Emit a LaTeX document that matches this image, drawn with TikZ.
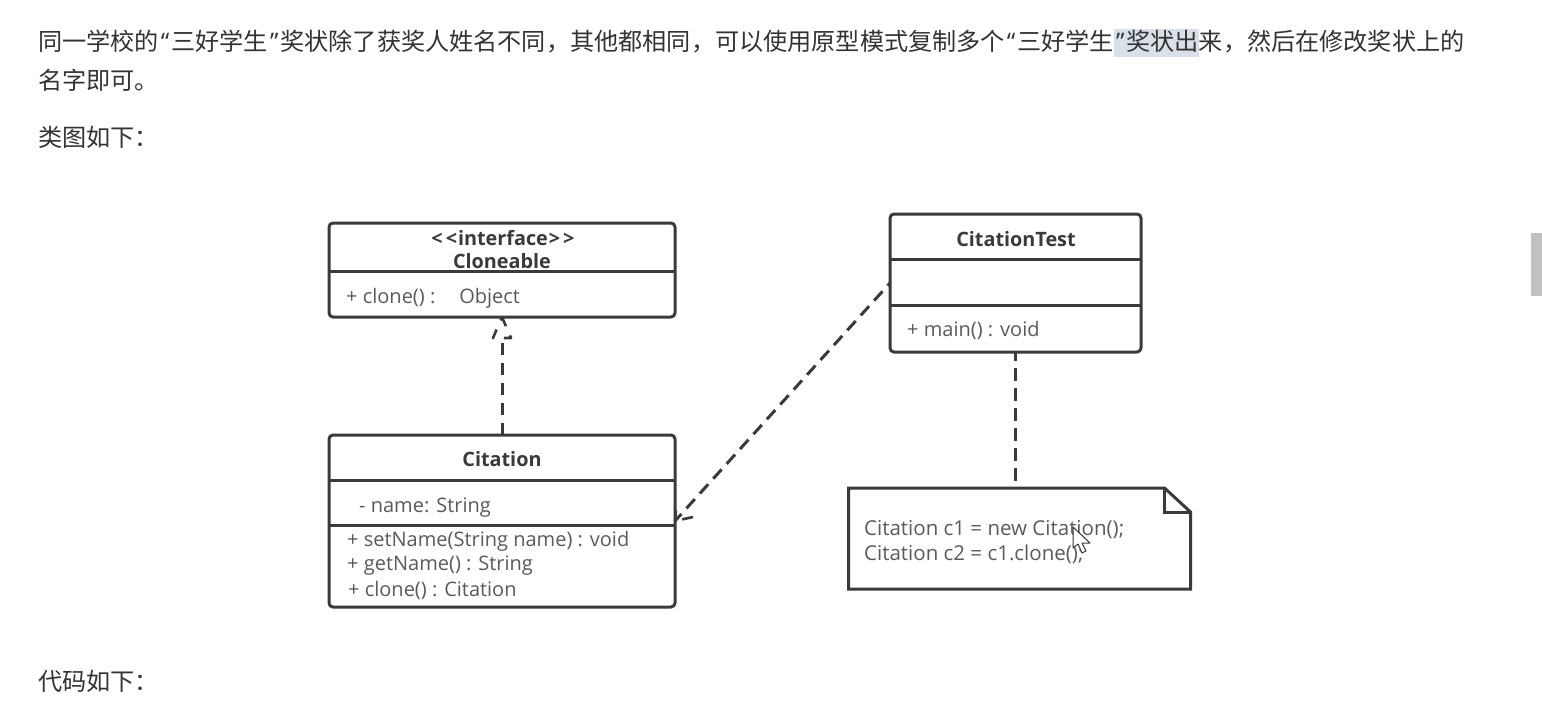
\documentclass[tikz,border=0pt]{standalone}
\usepackage{fontspec}
\setmainfont{Open Sans}
\newfontfamily\cjk{Noto Sans CJK SC}
\newcommand{\qopen}{\kern2pt{\rmfamily “}\kern2pt}
\newcommand{\qclose}{\kern2pt{\rmfamily ”}\kern2pt}
\usetikzlibrary{positioning}
\definecolor{inkgray}{HTML}{3A3A3A}
\definecolor{textgray}{HTML}{5A5A5A}
\definecolor{bodygray}{HTML}{333333}
\definecolor{markblue}{HTML}{D9E0E8}
\definecolor{barblue}{HTML}{C1C1C1}

\begin{document}
\begin{tikzpicture}[
  x=1pt, y=-1pt,
  line join=round,
  classbox/.style={draw=inkgray, line width=3pt, rounded corners=4pt, inner sep=0pt, outer sep=0pt},
  notebox/.style={inner sep=0pt, outer sep=0pt, minimum width=342pt, minimum height=101pt},
  divider/.style={draw=inkgray, line width=3pt},
  depline/.style={draw=inkgray, line width=3pt, dash pattern=on 12.5pt off 7.5pt},
  tipline/.style={draw=inkgray, line width=2.6pt, dash pattern=on 10pt off 10pt},
  bodytext/.style={inner sep=0pt, anchor=base west, text=bodygray, font=\cjk\fontsize{24.15}{28}\selectfont},
  title/.style={inner sep=0pt, anchor=base, text=inkgray, font=\bfseries\fontsize{19.8}{23}\selectfont},
  member/.style={inner sep=0pt, anchor=base west, text=textgray, font=\fontsize{20}{23}\selectfont},
  notetext/.style={member, font=\fontsize{20.5}{23}\selectfont},
]
  \useasboundingbox (0,0) rectangle (1542,709);

  \fill[markblue] (1114,29) rectangle (1199,57);
  \fill[barblue] (1531,233) rectangle (1542,296);

  \node[bodytext] (line1) at (38,51) {同一学校的\qopen 三好学生\qclose 奖状除了获奖人姓名不同，其他都相同，可以使用原型模式复制多个\qopen 三好学生\qclose 奖状出来，然后在修改奖状上的};
  \node[bodytext] (line2) at (38,89) {名字即可。};
  \node[bodytext] (line3) at (38,146) {类图如下：};
  \node[bodytext] (line4) at (38,690) {代码如下：};

  \node[classbox, minimum width=346pt, minimum height=94pt] (cloneable) at (502,270) {};
  \node[classbox, minimum width=346pt, minimum height=172pt, below=118pt of cloneable] (citation) {};
  \node[classbox, minimum width=251pt, minimum height=138pt, above right=9pt and 215pt of cloneable.north east, anchor=north west] (test) {};
  \node[notebox, below=136pt of test, xshift=4pt] (note) {};

  \draw[divider] ([yshift=-48pt]cloneable.north west) -- ([yshift=-48pt]cloneable.north east);
  \draw[divider] ([yshift=-45pt]citation.north west) -- ([yshift=-45pt]citation.north east);
  \draw[divider] ([yshift=-90pt]citation.north west) -- ([yshift=-90pt]citation.north east);
  \draw[divider] ([yshift=-45pt]test.north west) -- ([yshift=-45pt]test.north east);
  \draw[divider] ([yshift=-91pt]test.north west) -- ([yshift=-91pt]test.north east);

  \draw[divider, line join=miter] (note.north west) -- ([xshift=-26pt]note.north east) -- ([yshift=-24pt]note.north east) -- (note.south east) -- (note.south west) -- cycle;
  \draw[divider, line join=miter] ([xshift=-26pt]note.north east) |- ([yshift=-24pt]note.north east);

  \node[title] (stereotype) at (503,245) {<\kern3pt<\kern1pt interface\kern1pt>\kern3pt>};
  \node[title] (cloneabletitle) at (502,268) {Cloneable};
  \node[member] (cloneablem) at (346,303) {+ clone() :\kern24pt Object};
  \node[title] (citationtitle) at (502,466) {Citation};
  \node[member] (citationa) at (359,512) {- name: String};
  \node[member] (citationm1) at (347,546) {+ setName(String name) : void};
  \node[member] (citationm2) at (347,570) {+ getName() : String};
  \node[member] (citationm3) at (348,596) {+ clone() : Citation};
  \node[title] (testtitle) at (1016,246) {CitationTest};
  \node[member] (testm) at (907,336) {+ main() : void};
  \node[notetext] (notel1) at (864,535) {Citation c1 = new Citation();};
  \node[notetext] (notel2) at (864,560) {Citation c2 = c1.clone();};

  \coordinate (realtop) at ([yshift=-21pt]cloneable.south);
  \draw[depline] (citation.north) -- (realtop);
  \draw[tipline] (cloneable.south) -- ([xshift=9pt]realtop) -- ([xshift=-9pt]realtop) -- cycle;

  \draw[depline, dash phase=8.8pt] (test.west) -- (citation.east);
  \draw[tipline, dash pattern=on 11pt off 7pt] ([xshift=18pt,yshift=4pt]citation.east) -- (citation.east) -- ([xshift=1pt,yshift=11pt]citation.east);

  \draw[depline, dash phase=4pt] (test.south) -- (test.south |- note.north);

  \draw[fill=white, draw=inkgray, line width=1pt] (1073,527) -- (1073,548) -- (1078,544) -- (1082,553) -- (1086,551) -- (1082,543) -- (1090,543) -- cycle;
\end{tikzpicture}
\end{document}
